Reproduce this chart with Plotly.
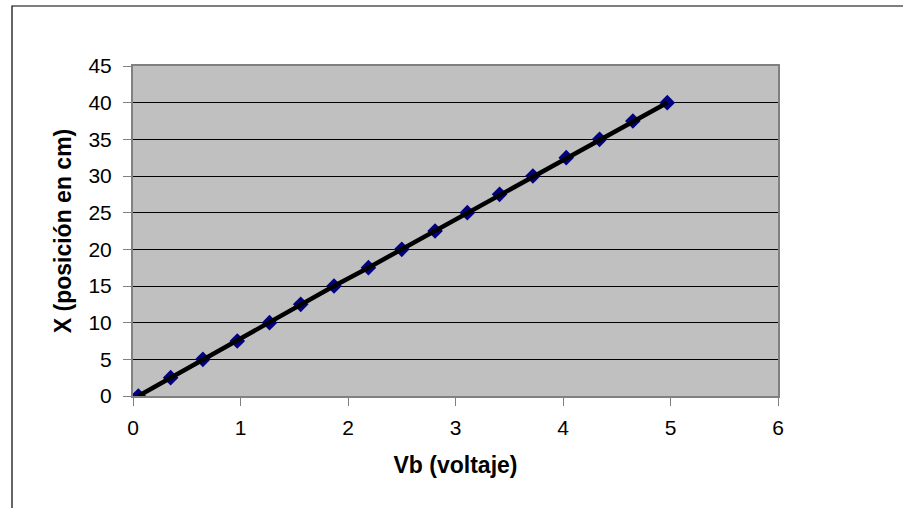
import plotly.graph_objects as go

vb = [0.05, 0.35, 0.65, 0.97, 1.27, 1.56, 1.87, 2.19, 2.5, 2.81, 3.11, 3.41, 3.72, 4.03, 4.34, 4.65, 4.97]
pos = [0, 2.5, 5, 7.5, 10, 12.5, 15, 17.5, 20, 22.5, 25, 27.5, 30, 32.5, 35, 37.5, 40]
x_ticks = [0, 1, 2, 3, 4, 5, 6]
y_ticks = [0, 5, 10, 15, 20, 25, 30, 35, 40, 45]

FONT = "Liberation Sans, Arial, sans-serif"

fig = go.Figure()
fig.add_trace(go.Scatter(x=vb, y=pos, mode="markers",
                         marker=dict(symbol="diamond", size=12, color="#000080"),
                         showlegend=False, hoverinfo="skip"))
fig.add_trace(go.Scatter(x=vb, y=pos, mode="lines",
                         line=dict(color="black", width=4.5),
                         showlegend=False))

L, R, T, B = 133, 125, 66, 112
W, H = 903, 508
pw = W - L - R
ph = H - T - B

def px2x(px):
    return (px - L) / pw

def py2y(py):
    return (H - B - py) / ph

fig.add_shape(type="rect", xref="paper", yref="paper",
              x0=px2x(12), x1=px2x(915), y0=py2y(520), y1=py2y(6),
              line=dict(color="black", width=1.2), fillcolor="rgba(0,0,0,0)", layer="below")

fig.update_layout(
    width=W, height=H,
    margin=dict(l=L, r=R, t=T, b=B),
    paper_bgcolor="white",
    plot_bgcolor="#C0C0C0",
    font=dict(family=FONT, size=21, color="black"),
    xaxis=dict(range=[0, 6], tickvals=x_ticks, showgrid=False, zeroline=False,
               showline=True, linecolor="#808080", linewidth=2, mirror=True,
               ticks="outside", ticklen=8, tickcolor="#808080", tickwidth=1,
               ticklabelstandoff=4,
               tickfont=dict(size=21),
               title=dict(text="<b>Vb (voltaje)</b>", font=dict(size=23), standoff=19)),
    yaxis=dict(range=[0, 45], tickvals=y_ticks, showgrid=True, gridcolor="black", gridwidth=1,
               zeroline=False,
               showline=True, linecolor="#808080", linewidth=2, mirror=True,
               ticks="outside", ticklen=8, tickcolor="#808080", tickwidth=1,
               ticklabelstandoff=7,
               tickfont=dict(size=21),
               title=dict(text="<b>X (posición en cm)</b>", font=dict(size=23), standoff=10)),
)

fig.write_html("out.html", config={"displayModeBar": False},
               post_script="document.body.style.margin='0';document.body.style.overflow='hidden';")
